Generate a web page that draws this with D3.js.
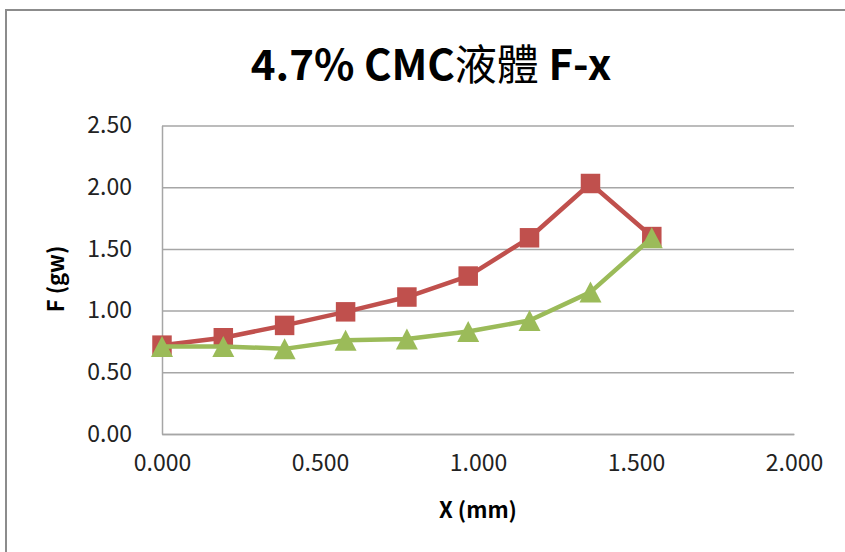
<!DOCTYPE html>
<html>
<head>
<meta charset="utf-8">
<script src="https://cdn.jsdelivr.net/npm/d3@7"></script>
<style>
  html, body { margin: 0; padding: 0; background: #fff; }
  svg { display: block; }
  text { font-family: "Noto Sans CJK TC", "Open Sans", sans-serif; }
</style>
</head>
<body>
<svg id="chart" width="845" height="552"></svg>
<script>
// Displacement (mm) and force (gw) readings for the two runs
const xValues   = [0.000, 0.194, 0.388, 0.581, 0.775, 0.969, 1.163, 1.356, 1.550];
const forceRed   = [0.72, 0.78, 0.88, 0.99, 1.11, 1.28, 1.59, 2.03, 1.60];
const forceGreen = [0.71, 0.71, 0.69, 0.76, 0.77, 0.83, 0.92, 1.15, 1.59];
const xTicks = [0, 0.5, 1.0, 1.5, 2.0];
const yTicks = [0, 0.5, 1.0, 1.5, 2.0, 2.5];

const svg = d3.select("#chart");
const plot = { left: 162, right: 794, top: 125.5, bottom: 434 };

const x = d3.scaleLinear().domain([0, 2]).range([plot.left, plot.right]);
const y = d3.scaleLinear().domain([0, 2.5]).range([plot.bottom, plot.top]);

// Outer chart frame
svg.append("rect")
  .attr("x", 6).attr("y", 10).attr("width", 900).attr("height", 600)
  .attr("fill", "#fff").attr("stroke", "#8c8c8c").attr("stroke-width", 2);

// Title
const title = svg.append("text")
  .attr("x", 431).attr("y", 80)
  .attr("text-anchor", "middle")
  .attr("font-size", 42).attr("font-weight", 700).attr("fill", "#000");
title.append("tspan").text("4.7% CMC");
title.append("tspan").attr("font-weight", 400).text("液體");
title.append("tspan").text(" F-x");

// Horizontal gridlines
svg.append("g")
  .attr("transform", `translate(${plot.left},0)`)
  .call(d3.axisLeft(y).tickValues(yTicks).tickSize(-(plot.right - plot.left)).tickFormat(""))
  .call(g => g.select(".domain").remove())
  .call(g => g.selectAll(".tick line").attr("stroke", "#a6a6a6").attr("stroke-width", 1.5));

// Y axis line and labels
const yAxis = svg.append("g")
  .attr("transform", `translate(${plot.left},0)`)
  .call(d3.axisLeft(y).tickValues(yTicks).tickSize(0).tickPadding(30).tickFormat(d3.format(".2f")));
yAxis.select(".domain").attr("stroke", "#a6a6a6").attr("stroke-width", 1.5);
yAxis.selectAll(".tick text").attr("font-size", 23).attr("fill", "#222")
  .attr("font-family", "'Noto Sans CJK TC', sans-serif");

// X axis line and labels
const xAxis = svg.append("g")
  .attr("transform", `translate(0,${plot.bottom})`)
  .call(d3.axisBottom(x).tickValues(xTicks).tickSize(0).tickPadding(21).tickFormat(d3.format(".3f")));
xAxis.select(".domain").attr("stroke", "#a6a6a6").attr("stroke-width", 1.5);
xAxis.selectAll(".tick text").attr("font-size", 23).attr("fill", "#222")
  .attr("font-family", "'Noto Sans CJK TC', sans-serif");

// Axis titles
svg.append("text")
  .attr("x", 478).attr("y", 518)
  .attr("text-anchor", "middle")
  .attr("font-size", 22).attr("font-weight", 700)
  .text("X (mm)");
svg.append("text")
  .attr("transform", "translate(64,279) rotate(-90)")
  .attr("text-anchor", "middle")
  .attr("font-size", 22).attr("font-weight", 700)
  .text("F (gw)");

const line = d3.line().x(d => x(d[0])).y(d => y(d[1]));
const redData = xValues.map((v, i) => [v, forceRed[i]]);
const greenData = xValues.map((v, i) => [v, forceGreen[i]]);

// Red series: line with square markers
svg.append("path").datum(redData)
  .attr("d", line).attr("fill", "none")
  .attr("stroke", "#C0504D").attr("stroke-width", 4.5).attr("stroke-linejoin", "round");
svg.append("g").selectAll("path").data(redData).join("path")
  .attr("d", d3.symbol(d3.symbolSquare, 380))
  .attr("transform", d => `translate(${x(d[0])},${y(d[1])})`)
  .attr("fill", "#C0504D");

// Green series: line with triangle markers
svg.append("path").datum(greenData)
  .attr("d", line).attr("fill", "none")
  .attr("stroke", "#9BBB59").attr("stroke-width", 4.5).attr("stroke-linejoin", "round");
const tri = d3.path();
tri.moveTo(0, -10.5); tri.lineTo(11, 10.5); tri.lineTo(-11, 10.5); tri.closePath();
svg.append("g").selectAll("path").data(greenData).join("path")
  .attr("d", tri.toString())
  .attr("transform", d => `translate(${x(d[0])},${y(d[1])})`)
  .attr("fill", "#9BBB59");
</script>
</body>
</html>
